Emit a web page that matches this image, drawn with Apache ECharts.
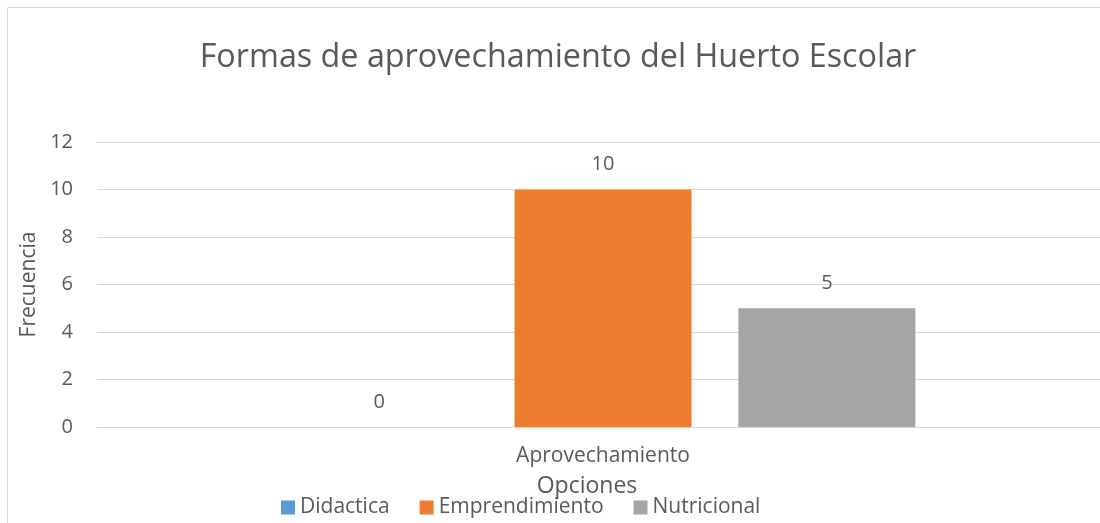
<!DOCTYPE html>
<html><head><meta charset="utf-8">
<script src="https://cdn.jsdelivr.net/npm/echarts@6/dist/echarts.min.js"></script>
<style>html,body{margin:0;padding:0;background:#fff;overflow:hidden;width:1100px;height:523px}#c{width:1109px;height:523px}</style>
</head><body><div id="c"></div>
<script>
const titleText = 'Formas de aprovechamiento del Huerto Escolar';
const categories = ['Aprovechamiento'];
const seriesNames = ['Didactica', 'Emprendimiento', 'Nutricional'];
const didactica = [0];
const emprendimiento = [10];
const nutricional = [5];
const yTicks = { min: 0, max: 12, interval: 2 };
const colors = ['#5B9BD5', '#ED7D31', '#A5A5A5'];
const FONT = 'Open Sans';
const txt = '#595959';

const chart = echarts.init(document.getElementById('c'), null, {renderer: 'canvas'});
const values = [didactica, emprendimiento, nutricional];
chart.setOption({
  animation: false,
  color: colors,
  textStyle: {fontFamily: FONT, color: txt},
  graphic: [{type: 'rect', shape: {x: 7.5, y: 7.5, width: 1200, height: 600}, style: {fill: 'none', stroke: '#D9D9D9', lineWidth: 1}, silent: true, z: -10}],
  title: {text: titleText, left: 553, textAlign: 'center', top: 37, textStyle: {fontFamily: FONT, fontSize: 32.3, fontWeight: 'normal', color: txt}},
  legend: {data: seriesNames, left: 276, top: 492, itemWidth: 14, itemHeight: 14, itemGap: 30, icon: 'rect',
    textStyle: {fontFamily: FONT, fontSize: 21, color: txt}},
  grid: {left: 97, right: 0, top: 142, bottom: 96, containLabel: false},
  xAxis: {type: 'category', data: categories, name: 'Opciones', nameLocation: 'middle', nameGap: 48,
    nameTextStyle: {fontFamily: FONT, fontSize: 23, color: txt, padding: [0, 32, 0, 0]},
    axisLine: {lineStyle: {color: '#D9D9D9'}}, axisTick: {show: false},
    axisLabel: {fontFamily: FONT, fontSize: 21, color: txt, margin: 19}},
  yAxis: {type: 'value', min: yTicks.min, max: yTicks.max, interval: yTicks.interval,
    name: 'Frecuencia', nameLocation: 'middle', nameGap: 56,
    nameTextStyle: {fontFamily: FONT, fontSize: 21, color: txt},
    axisLine: {show: false}, axisTick: {show: false},
    axisLabel: {fontFamily: FONT, fontSize: 20, color: txt, margin: 24},
    splitLine: {lineStyle: {color: '#D9D9D9'}}},
  series: seriesNames.map((n, i) => ({
    name: n, type: 'bar', data: values[i], barWidth: 177, barGap: '26.5%',
    label: {show: true, position: 'top', distance: 15, fontFamily: FONT, fontSize: 20, color: txt}
  }))
});
</script></body></html>
